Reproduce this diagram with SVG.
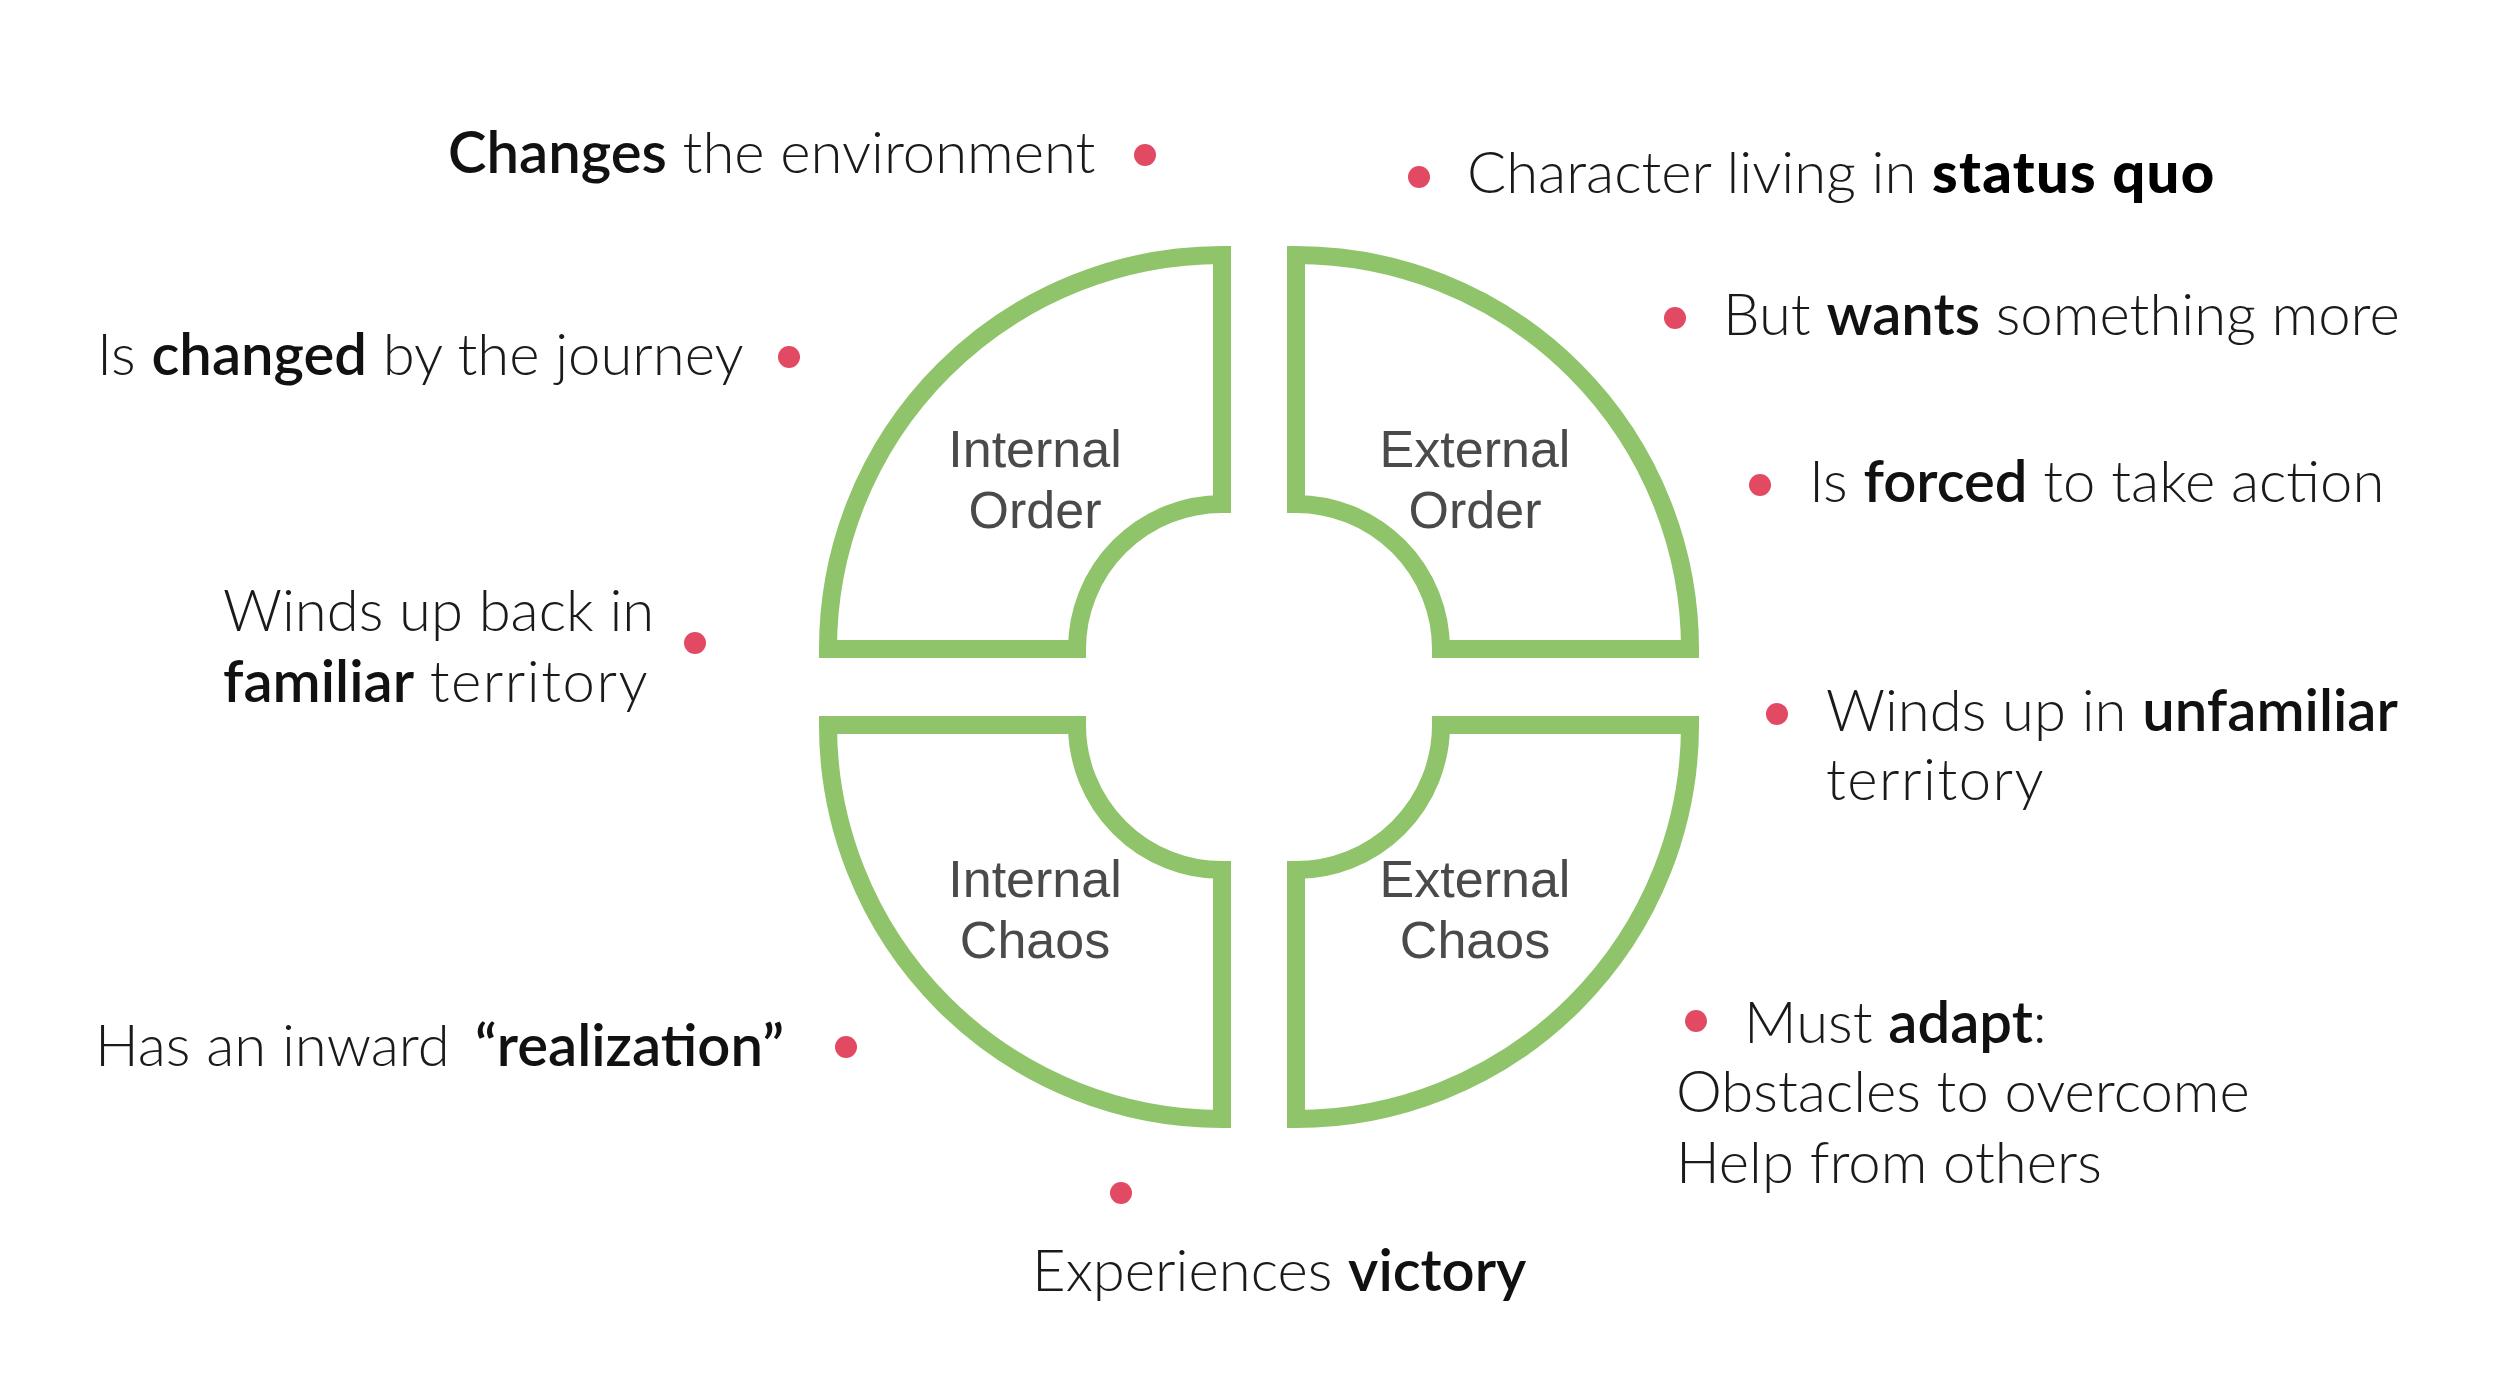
<svg xmlns="http://www.w3.org/2000/svg" width="2516" height="1376" viewBox="0 0 2516 1376">
<style>
.q{fill:#ffffff;stroke:#8fc46a;stroke-width:18;stroke-linejoin:miter;stroke-miterlimit:10}
.ql{font-family:"Liberation Sans",Arial,sans-serif;font-size:52px;fill:#4a4a4a;text-anchor:middle}
.t{font-family:Lato,"Open Sans",sans-serif;font-size:58px;font-weight:300;fill:#1a1a1a}
.b{font-weight:600;fill:#111111}
.bb{font-weight:900;fill:#000000;letter-spacing:1.3px}
.w{letter-spacing:1.5px}
.dot{fill:#e24a63}
</style>
<rect width="2516" height="1376" fill="#ffffff"/>
<g id="internal-order">
<path class="q" d="M1222,255 L1222,504 A145,145 0 0 0 1077,649 L828,649 A394,394 0 0 1 1222,255 Z"/>
<text class="ql" x="1035" y="467">Internal</text>
<text class="ql" x="1035" y="528">Order</text>
</g>
<g id="external-order">
<path class="q" d="M1296,255 A394,394 0 0 1 1690,649 L1441,649 A145,145 0 0 0 1296,504 Z"/>
<text class="ql" x="1475" y="467">External</text>
<text class="ql" x="1475" y="528">Order</text>
</g>
<g id="internal-chaos">
<path class="q" d="M828,725 L1077,725 A145,145 0 0 0 1222,870 L1222,1119 A394,394 0 0 1 828,725 Z"/>
<text class="ql" x="1035" y="897">Internal</text>
<text class="ql" x="1035" y="958">Chaos</text>
</g>
<g id="external-chaos">
<path class="q" d="M1441,725 L1690,725 A394,394 0 0 1 1296,1119 L1296,870 A145,145 0 0 0 1441,725 Z"/>
<text class="ql" x="1475" y="897">External</text>
<text class="ql" x="1475" y="958">Chaos</text>
</g>
<g id="connectors"/>
<g id="note-changes-environment">
<text class="t" x="448" y="173"><tspan class="b">Changes</tspan> the environment</text>
<circle class="dot" cx="1145" cy="155" r="11"/>
</g>
<g id="note-changed-by-journey">
<text class="t" x="97" y="375">Is <tspan class="b">changed</tspan> by the journey</text>
<circle class="dot" cx="789" cy="357" r="11"/>
</g>
<g id="note-familiar-territory">
<text class="t" x="223" y="631">Winds up back in</text>
<text class="t" x="223" y="702"><tspan class="b">familiar</tspan> <tspan class="w">territory</tspan></text>
<circle class="dot" cx="695" cy="643" r="11"/>
</g>
<g id="note-realization">
<text class="t" x="95" y="1066">Has an inward <tspan class="b" x="475">“realization”</tspan></text>
<circle class="dot" cx="846" cy="1047" r="11"/>
</g>
<g id="note-victory">
<circle class="dot" cx="1121" cy="1193" r="11"/>
<text class="t" x="1032" y="1291">Experiences <tspan class="b">victory</tspan></text>
</g>
<g id="note-status-quo">
<circle class="dot" cx="1419" cy="177" r="11"/>
<text class="t" x="1467" y="193">Character living in <tspan class="bb">status quo</tspan></text>
</g>
<g id="note-wants-more">
<circle class="dot" cx="1675" cy="318" r="11"/>
<text class="t" x="1723" y="335">But <tspan class="b">wants</tspan> something more</text>
</g>
<g id="note-forced">
<circle class="dot" cx="1760" cy="485" r="11"/>
<text class="t" x="1809" y="502">Is <tspan class="b">forced</tspan> to take action</text>
</g>
<g id="note-unfamiliar">
<circle class="dot" cx="1777" cy="714" r="11"/>
<text class="t" x="1826" y="731">Winds up in <tspan class="b">unfamiliar</tspan></text>
<text class="t w" x="1826" y="800">territory</text>
</g>
<g id="note-adapt">
<circle class="dot" cx="1696" cy="1021" r="11"/>
<text class="t" x="1744" y="1043">Must <tspan class="b">adapt</tspan>:</text>
<text class="t" x="1676" y="1112">Obstacles to overcome</text>
<text class="t" x="1676" y="1183">Help from others</text>
</g>
</svg>
